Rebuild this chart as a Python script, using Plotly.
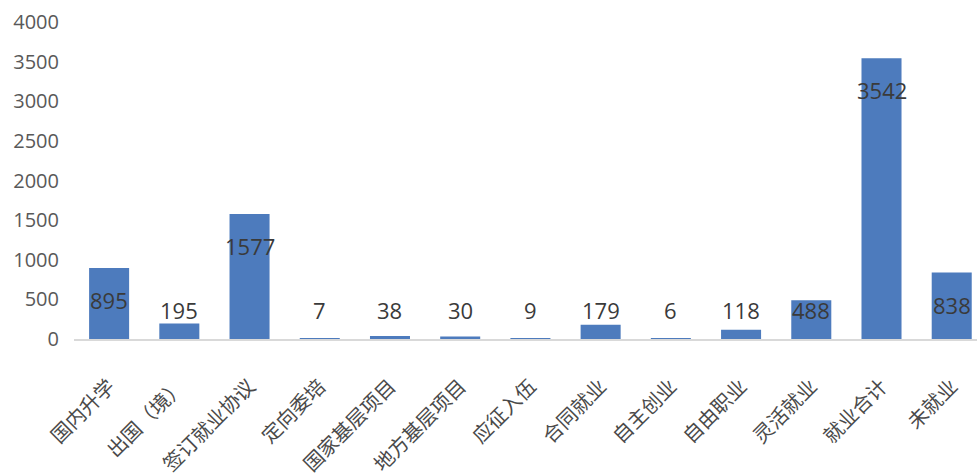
import plotly.graph_objects as go

categories = ["国内升学", "出国（境）", "签订就业协议", "定向委培", "国家基层项目",
              "地方基层项目", "应征入伍", "合同就业", "自主创业", "自由职业",
              "灵活就业", "就业合计", "未就业"]
values = [895, 195, 1577, 7, 38, 30, 9, 179, 6, 118, 488, 3542, 838]
y_ticks = [0, 500, 1000, 1500, 2000, 2500, 3000, 3500, 4000]

LABEL_FLOOR = 770  # labels of short bars are held at this level

fig = go.Figure()
fig.add_trace(go.Bar(
    x=list(range(len(categories))),
    y=values,
    marker=dict(color="#4d7bbd", line=dict(width=0)),
    hoverinfo="x+y",
))

annotations = []
for i, v in enumerate(values):
    annotations.append(dict(
        x=i, y=max(v, LABEL_FLOOR), xref="x", yref="y",
        text=str(v), showarrow=False, yanchor="middle", yshift=-32,
        font=dict(family="Open Sans", size=22, color="#3a3a3a"),
    ))

fig.update_layout(
    width=977, height=476,
    margin=dict(l=74, r=0, t=22, b=137),
    paper_bgcolor="white", plot_bgcolor="white",
    bargap=0.43,
    showlegend=False,
    annotations=annotations,
    xaxis=dict(
        range=[-0.5, 12.36],
        tickmode="array",
        tickvals=list(range(len(categories))),
        ticktext=categories,
        tickangle=-45,
        tickfont=dict(family="Noto Sans CJK SC", size=20, color="#4a4a4a"),
        showline=True, linecolor="#d9d9d9", linewidth=1.5,
        showgrid=False, zeroline=False, ticks="",
        ticklabelstandoff=26,
        automargin=False,
    ),
    yaxis=dict(
        range=[0, 4000],
        tickmode="array",
        tickvals=y_ticks,
        tickfont=dict(family="Open Sans", size=20, color="#595959"),
        showgrid=False, zeroline=False, showline=False, ticks="",
        ticklabelstandoff=14,
        automargin=False,
    ),
)

fig.write_html("out.html",
               config={"displayModeBar": False},
               post_script="document.body.style.margin='0';document.body.style.overflow='hidden';")
